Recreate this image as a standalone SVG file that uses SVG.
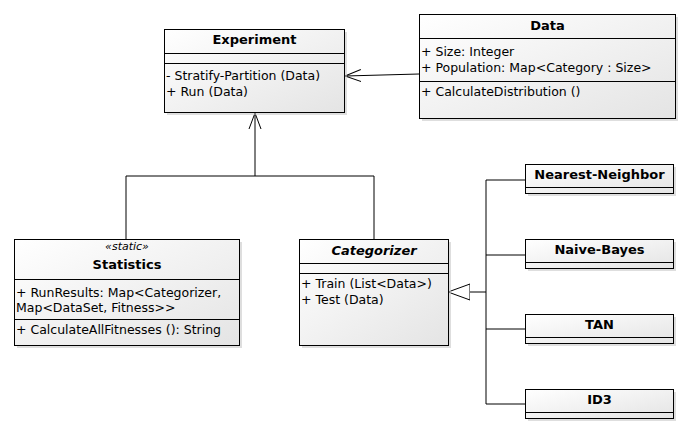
<svg xmlns="http://www.w3.org/2000/svg" width="689" height="434" viewBox="0 0 689 434">
<defs>
<linearGradient id="g" x1="0" y1="0" x2="1" y2="1">
<stop offset="0" stop-color="#ffffff"/>
<stop offset="1" stop-color="#e4e4e4"/>
</linearGradient>
<marker id="open" markerWidth="20" markerHeight="16" refX="16" refY="8" orient="auto" markerUnits="userSpaceOnUse">
<path d="M0,2 L16,8 L0,14" fill="none" stroke="#000" stroke-width="1"/>
</marker>
<marker id="tri" markerWidth="26" markerHeight="20" refX="22" refY="10" orient="auto" markerUnits="userSpaceOnUse">
<path d="M0,2 L22,10 L0,18 Z" fill="#fff" stroke="#000" stroke-width="1"/>
</marker>
</defs>
<style>
.box{fill:url(#g);stroke:#000;stroke-width:1}
.sh{fill:#c8c8c8;opacity:0.6}
.sep{stroke:#000;stroke-width:1}
.t{font-family:"DejaVu Sans",Verdana,sans-serif;font-size:13px;font-weight:bold;text-anchor:middle;fill:#000}
.m{font-family:"DejaVu Sans",Verdana,sans-serif;font-size:12.5px;fill:#000}
.st{font-family:"DejaVu Sans",Verdana,sans-serif;font-size:11px;font-style:italic;text-anchor:middle;fill:#000}
.c{fill:none;stroke:#000;stroke-width:1}
</style>
<rect width="689" height="434" fill="#fff"/>

<g id="connectors">
<path class="c" d="M419,74 L345,76" marker-end="url(#open)"/>
<path class="c" d="M126,239 L126,176 L374,176 L374,239"/>
<path class="c" d="M255,176 L255,113" marker-end="url(#open)"/>
<path class="c" d="M486,180 L486,404"/>
<path class="c" d="M486,180 L525,180 M486,255 L525,255 M486,329 L525,329 M486,404 L525,404"/>
<path class="c" d="M486,292 L448,292" marker-end="url(#tri)"/>
</g>

<g id="experiment">
<rect class="sh" x="167" y="32" width="180" height="83"/>
<rect class="box" x="164.5" y="29.5" width="180" height="83"/>
<line class="sep" x1="164.5" y1="53.5" x2="344.5" y2="53.5"/>
<line class="sep" x1="164.5" y1="63.5" x2="344.5" y2="63.5"/>
<text class="t" x="254.5" y="44">Experiment</text>
<text class="m" x="166" y="80">- Stratify-Partition (Data)</text>
<text class="m" x="166" y="96">+ Run (Data)</text>
</g>

<g id="data">
<rect class="sh" x="422" y="17" width="256" height="104"/>
<rect class="box" x="419.5" y="14.5" width="256" height="104"/>
<line class="sep" x1="419.5" y1="38.5" x2="675.5" y2="38.5"/>
<line class="sep" x1="419.5" y1="81.5" x2="675.5" y2="81.5"/>
<text class="t" x="547.5" y="30">Data</text>
<text class="m" x="421" y="56">+ Size: Integer</text>
<text class="m" x="421" y="72">+ Population: Map&lt;Category : Size&gt;</text>
<text class="m" x="421" y="96">+ CalculateDistribution ()</text>
</g>

<g id="statistics">
<rect class="sh" x="17" y="242" width="225" height="106"/>
<rect class="box" x="14.5" y="239.5" width="225" height="106"/>
<line class="sep" x1="14.5" y1="279.5" x2="239.5" y2="279.5"/>
<line class="sep" x1="14.5" y1="319.5" x2="239.5" y2="319.5"/>
<text class="st" x="127" y="250">«static»</text>
<text class="t" x="127" y="269">Statistics</text>
<text class="m" x="16" y="297">+ RunResults: Map&lt;Categorizer,</text>
<text class="m" x="16" y="312">Map&lt;DataSet, Fitness&gt;&gt;</text>
<text class="m" x="16" y="334">+ CalculateAllFitnesses (): String</text>
</g>

<g id="categorizer">
<rect class="sh" x="302" y="242" width="149" height="106"/>
<rect class="box" x="299.5" y="239.5" width="149" height="106"/>
<line class="sep" x1="299.5" y1="263.5" x2="448.5" y2="263.5"/>
<line class="sep" x1="299.5" y1="273.5" x2="448.5" y2="273.5"/>
<text class="t" x="374" y="255" font-style="italic">Categorizer</text>
<text class="m" x="301" y="288">+ Train (List&lt;Data&gt;)</text>
<text class="m" x="301" y="304">+ Test (Data)</text>
</g>

<g id="nearest-neighbor">
<rect class="sh" x="528" y="167" width="148" height="29"/>
<rect class="box" x="525.5" y="164.5" width="148" height="29"/>
<line class="sep" x1="525.5" y1="187.5" x2="673.5" y2="187.5"/>
<text class="t" x="599.5" y="179">Nearest-Neighbor</text>
</g>

<g id="naive-bayes">
<rect class="sh" x="528" y="242" width="148" height="29"/>
<rect class="box" x="525.5" y="239.5" width="148" height="29"/>
<line class="sep" x1="525.5" y1="262.5" x2="673.5" y2="262.5"/>
<text class="t" x="599.5" y="254">Naive-Bayes</text>
</g>

<g id="tan">
<rect class="sh" x="528" y="317" width="148" height="29"/>
<rect class="box" x="525.5" y="314.5" width="148" height="29"/>
<line class="sep" x1="525.5" y1="337.5" x2="673.5" y2="337.5"/>
<text class="t" x="599.5" y="329">TAN</text>
</g>

<g id="id3">
<rect class="sh" x="528" y="392" width="148" height="29"/>
<rect class="box" x="525.5" y="389.5" width="148" height="29"/>
<line class="sep" x1="525.5" y1="412.5" x2="673.5" y2="412.5"/>
<text class="t" x="599.5" y="404">ID3</text>
</g>
</svg>
